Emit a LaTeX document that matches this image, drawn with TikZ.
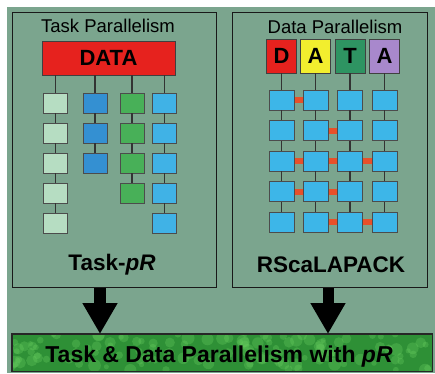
\documentclass[tikz,border=0pt]{standalone}
\usepackage{fontspec}
\setmainfont{Liberation Sans}
\usetikzlibrary{arrows.meta}
\definecolor{bg}{HTML}{7BA58E}
\definecolor{paleg}{HTML}{B6DDC2}
\definecolor{blueA}{HTML}{3490D2}
\definecolor{greenA}{HTML}{48B058}
\definecolor{blueB}{HTML}{40B2E6}
\definecolor{cyanA}{HTML}{3DB6E8}
\definecolor{dred}{HTML}{E6221E}
\definecolor{dyel}{HTML}{F2EE2E}
\definecolor{dgreen}{HTML}{2E9462}
\definecolor{dlav}{HTML}{A888CC}
\definecolor{linkred}{HTML}{E8502A}
\definecolor{bannerg}{HTML}{2E9036}
\definecolor{bannerl}{HTML}{6CD262}
\begin{document}
\begin{tikzpicture}[x=1pt,y=-1pt,
  panel/.style={draw=black!90, line width=1.3pt, anchor=north west, inner sep=0pt},
  tbox/.style={draw=black!70, line width=0.9pt, minimum width=24pt, minimum height=20pt, inner sep=0pt},
  lbox/.style={draw=black!75, line width=0.9pt, minimum width=30pt, minimum height=34pt, inner sep=0pt,
    font=\fontsize{22}{24}\selectfont\bfseries},
  vlink/.style={line width=1.1pt, draw=black!80},
  rlink/.style={line width=6pt, draw=linkred},
  bigarrow/.style={line width=12pt, -{Triangle[width=33pt,length=31pt]}},
  title/.style={anchor=base, inner sep=0pt, font=\fontsize{18.5}{20}\selectfont},
  label/.style={anchor=base, inner sep=0pt, font=\fontsize{22.5}{24}\selectfont\bfseries}]
\useasboundingbox (0,0) rectangle (435,373);
\fill[white] (0,0) rectangle (435,373);
\fill[bg] (7,7) rectangle (435,373);

% panels
\node[panel, minimum width=204pt, minimum height=275pt] (lp) at (12,12) {};
\node[panel, minimum width=195pt, minimum height=275pt] (rp) at (232,12) {};

% left panel
\node[title] (lt) at (108,32) {Task Parallelism};
\node[draw=black!75, line width=0.9pt, fill=dred, minimum width=133pt, minimum height=34pt, inner sep=0pt,
  font=\fontsize{22}{24}\selectfont\bfseries] (data) at (108.5,58) {DATA};
\foreach \c/\x/\n/\col in {1/55.5/5/paleg,2/95/3/blueA,3/132/4/greenA,4/164.5/5/blueB}{
  \foreach \r in {1,...,\n}{
    \node[tbox, fill=\col] (l\c\r) at (\x,{103+30*(\r-1)}) {};
  }
  \draw[vlink] (data.south -| l\c1) -- (l\c1.north);
  \foreach \r in {2,...,\n}{
    \pgfmathtruncatemacro\p{\r-1}
    \draw[vlink] (l\c\p.south) -- (l\c\r.north);
  }
}
\node[label] (tpr) at (112,270) {Task-\itshape pR};

% right panel
\node[title] (rt) at (335,33) {Data Parallelism};
\node[lbox, fill=dred] (d1) at (281.5,56) {D};
\node[lbox, fill=dyel] (d2) at (315.5,56) {A};
\node[lbox, fill=dgreen] (d3) at (350,56) {T};
\node[lbox, fill=dlav] (d4) at (384.5,56) {A};
\foreach \c/\r in {1/1,2/2,1/3,2/3,3/3,1/4,2/4,2/5,3/5}{
  \pgfmathtruncatemacro\d{\c+1}
  \coordinate (ra) at ({281.5+(\c-1)*34.33},{100+30.5*(\r-1)});
  \coordinate (rb) at ({281.5+\c*34.33},{100+30.5*(\r-1)});
  \draw[rlink] (ra) -- (rb);
}
\foreach \c/\x in {1/281.5,2/315.5,3/350,4/384.5}{
  \foreach \r in {1,...,5}{
    \node[tbox, minimum width=25pt, fill=cyanA] (g\c\r) at (\x,{100+30.5*(\r-1)}) {};
  }
  \draw[vlink] (d\c.south) -- (g\c1.north);
  \foreach \r in {2,...,5}{
    \pgfmathtruncatemacro\p{\r-1}
    \draw[vlink] (g\c\p.south) -- (g\c\r.north);
  }
}
\node[label] (rsc) at (331,272) {RScaLAPACK};

% banner
\node[fill=bannerg, minimum width=420pt, minimum height=37pt, anchor=north west, inner sep=0pt] (banner) at (12,334) {};
\begin{scope}
  \clip (banner.north west) rectangle (banner.south east);
  \pgfmathsetseed{11}
  \foreach \i in {1,...,130}{
    \pgfmathsetmacro\px{12+420*rnd}
    \pgfmathsetmacro\py{334+37*rnd}
    \pgfmathsetmacro\rr{2.5+4*rnd}
    \fill[bannerl, opacity=0.3] (\px,\py) circle[radius=\rr pt];
  }
\end{scope}
\draw[black!85, line width=1.3pt] (banner.north west) rectangle (banner.south east);
\node[anchor=base, inner sep=0pt, font=\fontsize{23}{25}\selectfont\bfseries] (bt) at (219,362)
  {Task \& Data Parallelism with \itshape pR};

% arrows
\coordinate (a1) at (100,0);
\coordinate (a2) at (328,0);
\draw[bigarrow] (a1 |- lp.south) -- (a1 |- banner.north);
\draw[bigarrow, line width=11pt] (a2 |- rp.south) -- (a2 |- banner.north);
\end{tikzpicture}
\end{document}
